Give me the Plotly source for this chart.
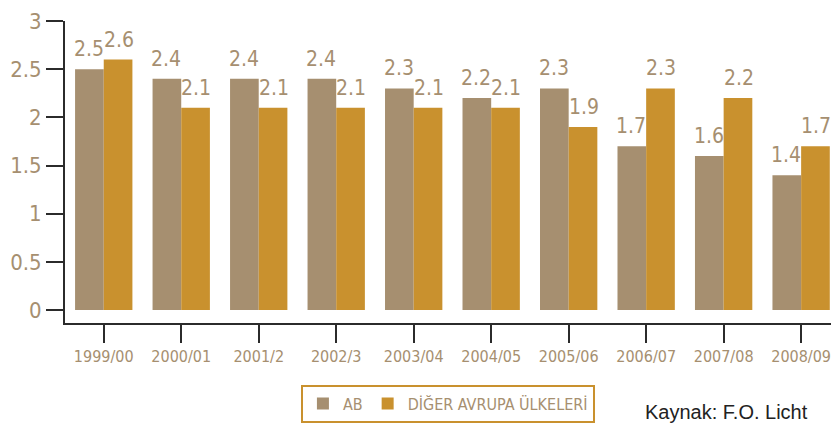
import plotly.graph_objects as go

categories = ["1999/00", "2000/01", "2001/2", "2002/3", "2003/04", "2004/05",
              "2005/06", "2006/07", "2007/08", "2008/09"]
ab = [2.5, 2.4, 2.4, 2.4, 2.3, 2.2, 2.3, 1.7, 1.6, 1.4]
diger = [2.6, 2.1, 2.1, 2.1, 2.1, 2.1, 1.9, 2.3, 2.2, 1.7]
ytick_vals = [0, 0.5, 1, 1.5, 2, 2.5, 3]
ytick_text = ["0", "0.5", "1", "1.5", "2", "2.5", "3"]

TAN = "#a68f70"
ORANGE = "#c9912e"
FONT = "DejaVu Sans Condensed, Liberation Sans Narrow, Liberation Sans, sans-serif"

fig = go.Figure()
fig.add_trace(go.Bar(x=categories, y=ab, name="AB", marker_color=TAN,
                     marker_line_width=0))
fig.add_trace(go.Bar(x=categories, y=diger, name="DİĞER AVRUPA ÜLKELERİ",
                     marker_color=ORANGE, marker_line_width=0))

for series, shift in ((ab, -15), (diger, 15)):
    for c, v in zip(categories, series):
        fig.add_annotation(x=c, y=v, text=str(v), showarrow=False,
                           xanchor="center", yanchor="bottom",
                           xshift=shift, yshift=6,
                           font=dict(size=21, color=TAN, family=FONT))

fig.update_layout(
    width=831, height=417,
    margin=dict(l=57, r=3, t=13, b=101),
    barmode="group", bargap=0.26, bargroupgap=0,
    plot_bgcolor="white", paper_bgcolor="white",
    font=dict(family=FONT, color=TAN),
    showlegend=True,
    legend=dict(orientation="h", x=0.306, y=-0.2, xanchor="left", yanchor="top",
                bordercolor=ORANGE, borderwidth=2,
                font=dict(size=16, color=TAN, family=FONT),
                itemwidth=30),
    xaxis=dict(range=[-0.5, 9.45], showline=True, linecolor="#2b2b2b", linewidth=2,
               ticks="outside", ticklen=18, tickwidth=2, tickcolor="#2b2b2b",
               tickfont=dict(size=16, color=TAN, family=FONT), showgrid=False,
               automargin=False, fixedrange=True),
    yaxis=dict(range=[-0.134, 3], showline=True, linecolor="#2b2b2b", linewidth=2,
               ticks="outside", ticklen=17, tickwidth=2, tickcolor="#2b2b2b",
               tickvals=ytick_vals, ticktext=ytick_text,
               tickfont=dict(size=22, color=TAN, family=FONT),
               showgrid=False, zeroline=False, automargin=False, fixedrange=True),
)

fig.add_annotation(text="Kaynak: F.O. Licht", xref="paper", yref="paper",
                   x=0.75, y=-0.25, xanchor="left", yanchor="top", showarrow=False,
                   font=dict(size=20, color="#222222",
                             family="Liberation Sans, Arial, sans-serif"))

fig.write_html("out.html")
